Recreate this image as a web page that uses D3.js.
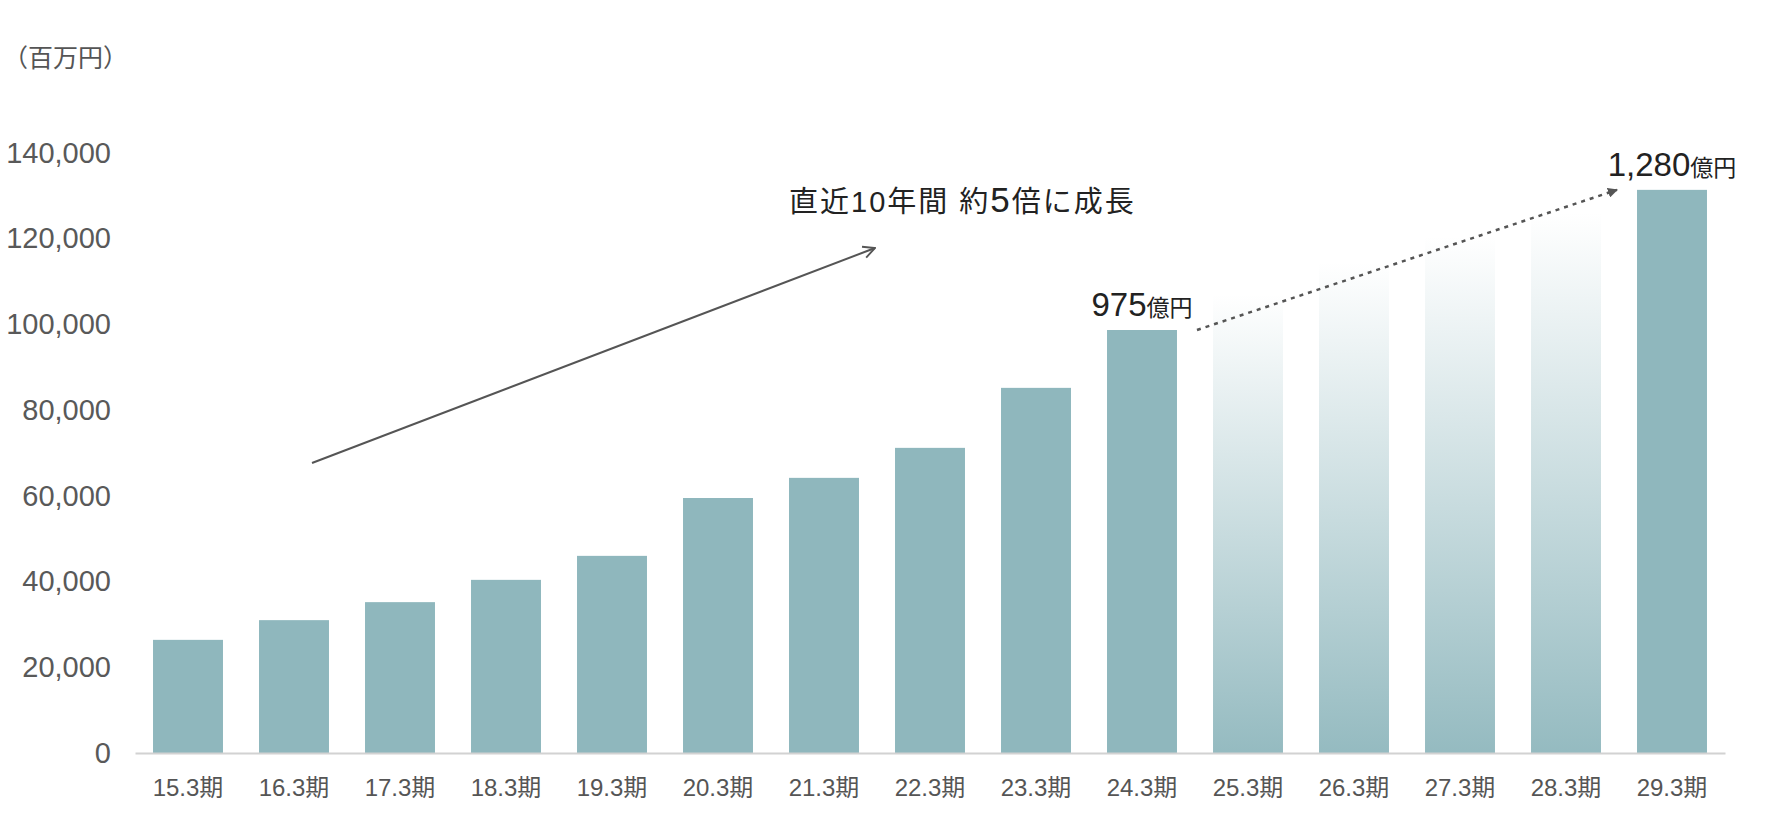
<!DOCTYPE html>
<html>
<head>
<meta charset="utf-8">
<script src="https://cdn.jsdelivr.net/npm/d3@7"></script>
<style>
  body { margin: 0; background: #fff; }
  text { font-family: "Liberation Sans", "Noto Sans CJK JP", sans-serif; }
</style>
</head>
<body>
<script>
// values in 百万円
const periods = ["15.3期","16.3期","17.3期","18.3期","19.3期","20.3期","21.3期","22.3期","23.3期","24.3期","25.3期","26.3期","27.3期","28.3期","29.3期"];
const sales = [26400, 31000, 35200, 40400, 46000, 59500, 64200, 71200, 85200, 98700, 107000, 114500, 120500, 126000, 131400];
const isPlan = [false,false,false,false,false,false,false,false,false,false,true,true,true,true,false];
const yTicks = [0, 20000, 40000, 60000, 80000, 100000, 120000, 140000];

const barColor = "#8fb7bd";

let svg = d3.select("body").append("svg")
  .attr("width", 1780)
  .attr("height", 826);

let defs = svg.append("defs");
let grad = defs.append("linearGradient")
  .attr("id", "fade")
  .attr("x1", 0).attr("y1", 1)
  .attr("x2", 0).attr("y2", 0);
grad.append("stop").attr("offset", "0%").attr("stop-color", barColor).attr("stop-opacity", 0.95);
grad.append("stop").attr("offset", "100%").attr("stop-color", barColor).attr("stop-opacity", 0);

defs.append("marker")
  .attr("id", "tri")
  .attr("viewBox", "0 0 10 10")
  .attr("refX", 9).attr("refY", 5)
  .attr("markerWidth", 10).attr("markerHeight", 10)
  .attr("markerUnits", "userSpaceOnUse")
  .attr("orient", "auto")
  .append("path")
    .attr("d", "M0,0 L10,5 L0,10 Z")
    .attr("fill", "#555");

defs.append("marker")
  .attr("id", "open")
  .attr("viewBox", "0 0 12 12")
  .attr("refX", 11).attr("refY", 6)
  .attr("markerWidth", 14).attr("markerHeight", 14)
  .attr("markerUnits", "userSpaceOnUse")
  .attr("orient", "auto")
  .append("path")
    .attr("d", "M1,1 L11,6 L1,11")
    .attr("fill", "none")
    .attr("stroke", "#555")
    .attr("stroke-width", 1.6);

let xScale = d3.scaleBand()
  .domain(periods)
  .range([135, 1725])
  .paddingInner(0.34)
  .paddingOuter(0.17);

let yScale = d3.scaleLinear()
  .domain([0, 140000])
  .range([753, 153]);

// unit label
svg.append("text")
  .attr("x", 3).attr("y", 67)
  .attr("font-size", 25)
  .attr("fill", "#555")
  .text("（百万円）");

// y axis
let yAxis = d3.axisLeft(yScale)
  .tickValues(yTicks)
  .tickFormat(d3.format(","))
  .tickSize(0)
  .tickPadding(9);
let gy = svg.append("g")
  .attr("transform", "translate(120,0)")
  .call(yAxis);
gy.select(".domain").remove();
gy.selectAll("text")
  .attr("font-size", 29)
  .attr("fill", "#595959")
  .attr("font-family", null);

// bars
svg.selectAll("rect.bar")
  .data(sales).enter().append("rect")
    .attr("class", "bar")
    .attr("x", (d,i) => xScale(periods[i]))
    .attr("y", d => yScale(d))
    .attr("width", xScale.bandwidth())
    .attr("height", d => yScale(0) - yScale(d))
    .attr("fill", (d,i) => isPlan[i] ? "url(#fade)" : barColor);

// x axis
let xAxis = d3.axisBottom(xScale)
  .tickSize(0)
  .tickSizeOuter(0)
  .tickPadding(26);
let gx = svg.append("g")
  .attr("transform", "translate(0," + yScale(0) + ")")
  .call(xAxis);
gx.select(".domain")
  .attr("stroke", "#d2d2d2")
  .attr("stroke-width", 2);
gx.selectAll("text")
  .attr("font-size", 24)
  .attr("fill", "#555")
  .attr("font-family", null);

// value labels over 24.3 and 29.3
const marked = [9, 14];
const markText = ["975", "1,280"];
marked.forEach((idx, k) => {
  let t = svg.append("text")
    .attr("x", xScale(periods[idx]) + xScale.bandwidth()/2)
    .attr("y", yScale(sales[idx]) - 14)
    .attr("text-anchor", "middle")
    .attr("fill", "#222");
  t.append("tspan").attr("font-size", 33).text(markText[k]);
  t.append("tspan").attr("font-size", 23).text("億円");
});

// dotted arrow from actual to plan
let a = 9, b = 14;
svg.append("line")
  .attr("x1", xScale(periods[a]) + xScale.bandwidth() + 20)
  .attr("y1", yScale(sales[a]))
  .attr("x2", xScale(periods[b]) - 20)
  .attr("y2", yScale(sales[b]))
  .attr("stroke", "#555")
  .attr("stroke-width", 2.5)
  .attr("stroke-dasharray", "4,5")
  .attr("marker-end", "url(#tri)");

// growth arrow
svg.append("line")
  .attr("x1", 312).attr("y1", 463)
  .attr("x2", 875).attr("y2", 248)
  .attr("stroke", "#555")
  .attr("stroke-width", 2)
  .attr("marker-end", "url(#open)");

let note = svg.append("text")
  .attr("x", 789).attr("y", 212)
  .attr("font-size", 29)
  .attr("letter-spacing", 2)
  .attr("fill", "#222");
note.append("tspan").text("直近10年間 約");
note.append("tspan").attr("font-size", 35).text("5");
note.append("tspan").text("倍に成長");
</script>
</body>
</html>
